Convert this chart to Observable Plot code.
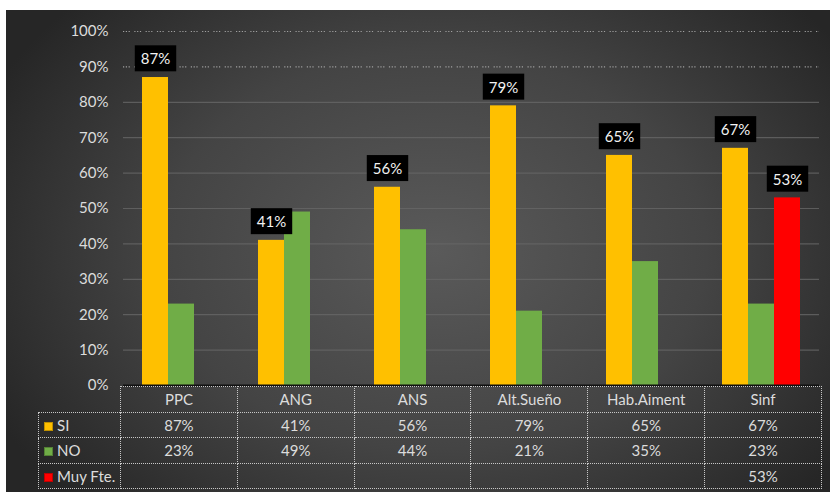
<!DOCTYPE html>
<html>
<head>
<meta charset="utf-8">
<script src="https://cdn.jsdelivr.net/npm/d3@7"></script>
<script src="https://cdn.jsdelivr.net/npm/@observablehq/plot@0.6"></script>
<style>
  html, body { margin: 0; padding: 0; background: #fff; }
  body { width: 830px; height: 492px; overflow: hidden; position: relative; font-family: Lato, "Open Sans", sans-serif; }
  #panel {
    position: absolute; left: 6px; top: 10px; width: 824px; height: 482px;
    background: radial-gradient(ellipse 60% 75% at 52% 50%, #5a5a5a 0%, #444 55%, #262626 100%);
  }
  #chart { position: absolute; left: 0; top: 0; }
  #tbl {
    position: absolute; left: 32px; top: 376px;
    border-collapse: collapse; color: #dcdcdc; font-size: 15px; table-layout: fixed;
  }
  #tbl td { border: 1px dotted #c8c8c8; height: 24.5px; padding: 0; text-align: center; white-space: nowrap; }
  #tbl td.blank { border: none; border-right: 1px dotted #c8c8c8; }
  #tbl td.leg { text-align: left; padding-left: 5px; }
  .sw { display: inline-block; width: 9px; height: 9px; margin-right: 4px; vertical-align: 0px; border: 1px solid rgba(0,0,0,0.25); box-sizing: border-box; }
</style>
</head>
<body>
<div id="panel"><div id="chart"></div></div>
<script>
const categories = ["PPC", "ANG", "ANS", "Alt.Sueño", "Hab.Aiment", "Sinf"];
const seriesNames = ["SI", "NO", "Muy Fte."];
const siValues = [87, 41, 56, 79, 65, 67];
const noValues = [23, 49, 44, 21, 35, 23];
const muyValues = [null, null, null, null, null, 53];
const yTicks = [0, 10, 20, 30, 40, 50, 60, 70, 80, 90, 100];
const seriesColors = ["#FFC000", "#70AD47", "#FF0000"];
const labelledSeries = ["SI", "Muy Fte."];

const valuesBySeries = [siValues, noValues, muyValues];
const rows = [];
categories.forEach((c, i) => {
  seriesNames.forEach((s, j) => {
    const v = valuesBySeries[j][i];
    if (v != null) rows.push({cat: c, series: s, value: v});
  });
});

const plot = Plot.plot({
  width: 824,
  height: 390,
  marginLeft: 114,
  marginRight: 9,
  marginTop: 21,
  marginBottom: 15,
  style: {background: "transparent", color: "#dcdcdc", fontFamily: "Lato, 'Open Sans', sans-serif", fontSize: "15px", overflow: "visible"},
  fx: {domain: categories, padding: 0, axis: null, label: null},
  x: {domain: seriesNames, paddingInner: 0, paddingOuter: 0.7, axis: null, label: null},
  y: {domain: [0, 100], axis: null, label: null},
  color: {domain: seriesNames, range: seriesColors},
  marks: [
    Plot.ruleY(yTicks.filter(t => t > 0 && t < 90), {stroke: "#666", strokeWidth: 1.2, strokeOpacity: 0.8}),
    Plot.ruleY(yTicks.filter(t => t >= 90), {stroke: "#a0a0a0", strokeWidth: 1.1, strokeDasharray: "1.2,1.6,1.2,1.6,1.2,4.5"}),
    Plot.barY(rows, {fx: "cat", x: "series", y: "value", fill: "series"}),
    Plot.ruleY([0], {stroke: "#111", strokeWidth: 2}),
    Plot.text(rows.filter(d => labelledSeries.includes(d.series)), {
      fx: "cat", x: "series", y: "value", text: d => d.value + "%",
      dy: -18, fill: "#f2f2f2", fontSize: 15, lineAnchor: "middle"
    }),
    Plot.axisY({ticks: yTicks, tickFormat: d => d + "%", tickSize: 0, tickPadding: 15, fontSize: 15, fill: "#dcdcdc", label: null})
  ]
});
document.getElementById("chart").appendChild(plot);

// black boxes behind the data labels
plot.querySelectorAll('g[aria-label="text"] text').forEach(t => {
  const bb = t.getBBox();
  const r = document.createElementNS("http://www.w3.org/2000/svg", "rect");
  const padX = 6, h = 26;
  r.setAttribute("x", bb.x - padX);
  r.setAttribute("y", bb.y + bb.height / 2 - h / 2);
  r.setAttribute("width", bb.width + 2 * padX);
  r.setAttribute("height", h);
  r.setAttribute("fill", "#000");
  const tr = t.getAttribute("transform");
  if (tr) r.setAttribute("transform", tr);
  t.parentNode.insertBefore(r, t);
});

// data table below the chart
const tbl = document.createElement("table");
tbl.id = "tbl";
const cg = document.createElement("colgroup");
[82, ...categories.map(() => 116.83)].forEach(w => {
  const col = document.createElement("col");
  col.style.width = w + "px";
  cg.appendChild(col);
});
tbl.appendChild(cg);
const head = document.createElement("tr");
const blank = document.createElement("td");
blank.className = "blank";
head.appendChild(blank);
categories.forEach(c => {
  const td = document.createElement("td");
  td.textContent = c;
  head.appendChild(td);
});
tbl.appendChild(head);
seriesNames.forEach((s, j) => {
  const tr = document.createElement("tr");
  const leg = document.createElement("td");
  leg.className = "leg";
  leg.innerHTML = `<span class="sw" style="background:${seriesColors[j]}"></span>${s}`;
  tr.appendChild(leg);
  valuesBySeries[j].forEach(v => {
    const td = document.createElement("td");
    td.textContent = v == null ? "" : v + "%";
    tr.appendChild(td);
  });
  tbl.appendChild(tr);
});
document.getElementById("panel").appendChild(tbl);
</script>
</body>
</html>
